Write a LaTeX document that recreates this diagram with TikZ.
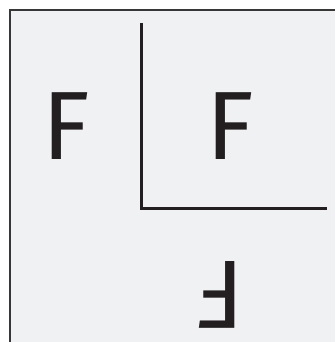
\documentclass[tikz,border=0pt]{standalone}
\usepackage{fontspec}
\setmainfont{Fira Sans}
\definecolor{bg}{RGB}{240,241,243}
\definecolor{ink}{RGB}{35,31,32}
\definecolor{frame}{RGB}{55,55,55}
\begin{document}
\begin{tikzpicture}[x=1pt,y=1pt,
  letter/.style={inner sep=0pt, outer sep=0pt, text=ink, font=\fontsize{97}{100}\selectfont, anchor=base west},
  rule/.style={draw=ink, line width=3pt, line cap=butt}]
\useasboundingbox (0,0) rectangle (335,342);
\fill[bg] (9.5,0) rectangle (335,332);
\draw[frame, line width=2pt] (9.5,0) -- (9.5,332) -- (335,332);
% L-shaped rule
\coordinate (vtop) at (141.5,319);
\coordinate (corner) at (141.5,133);
\coordinate (hend) at (327,133);
\draw[rule] (vtop) -- (corner) -- (hend);
% letters
\node[letter] (f1) at (42,182) {F};
\node[letter] (f2) at (206,182) {F};
\node[letter, rotate=180] (f3) at (244.3,80) {F};
\end{tikzpicture}
\end{document}
